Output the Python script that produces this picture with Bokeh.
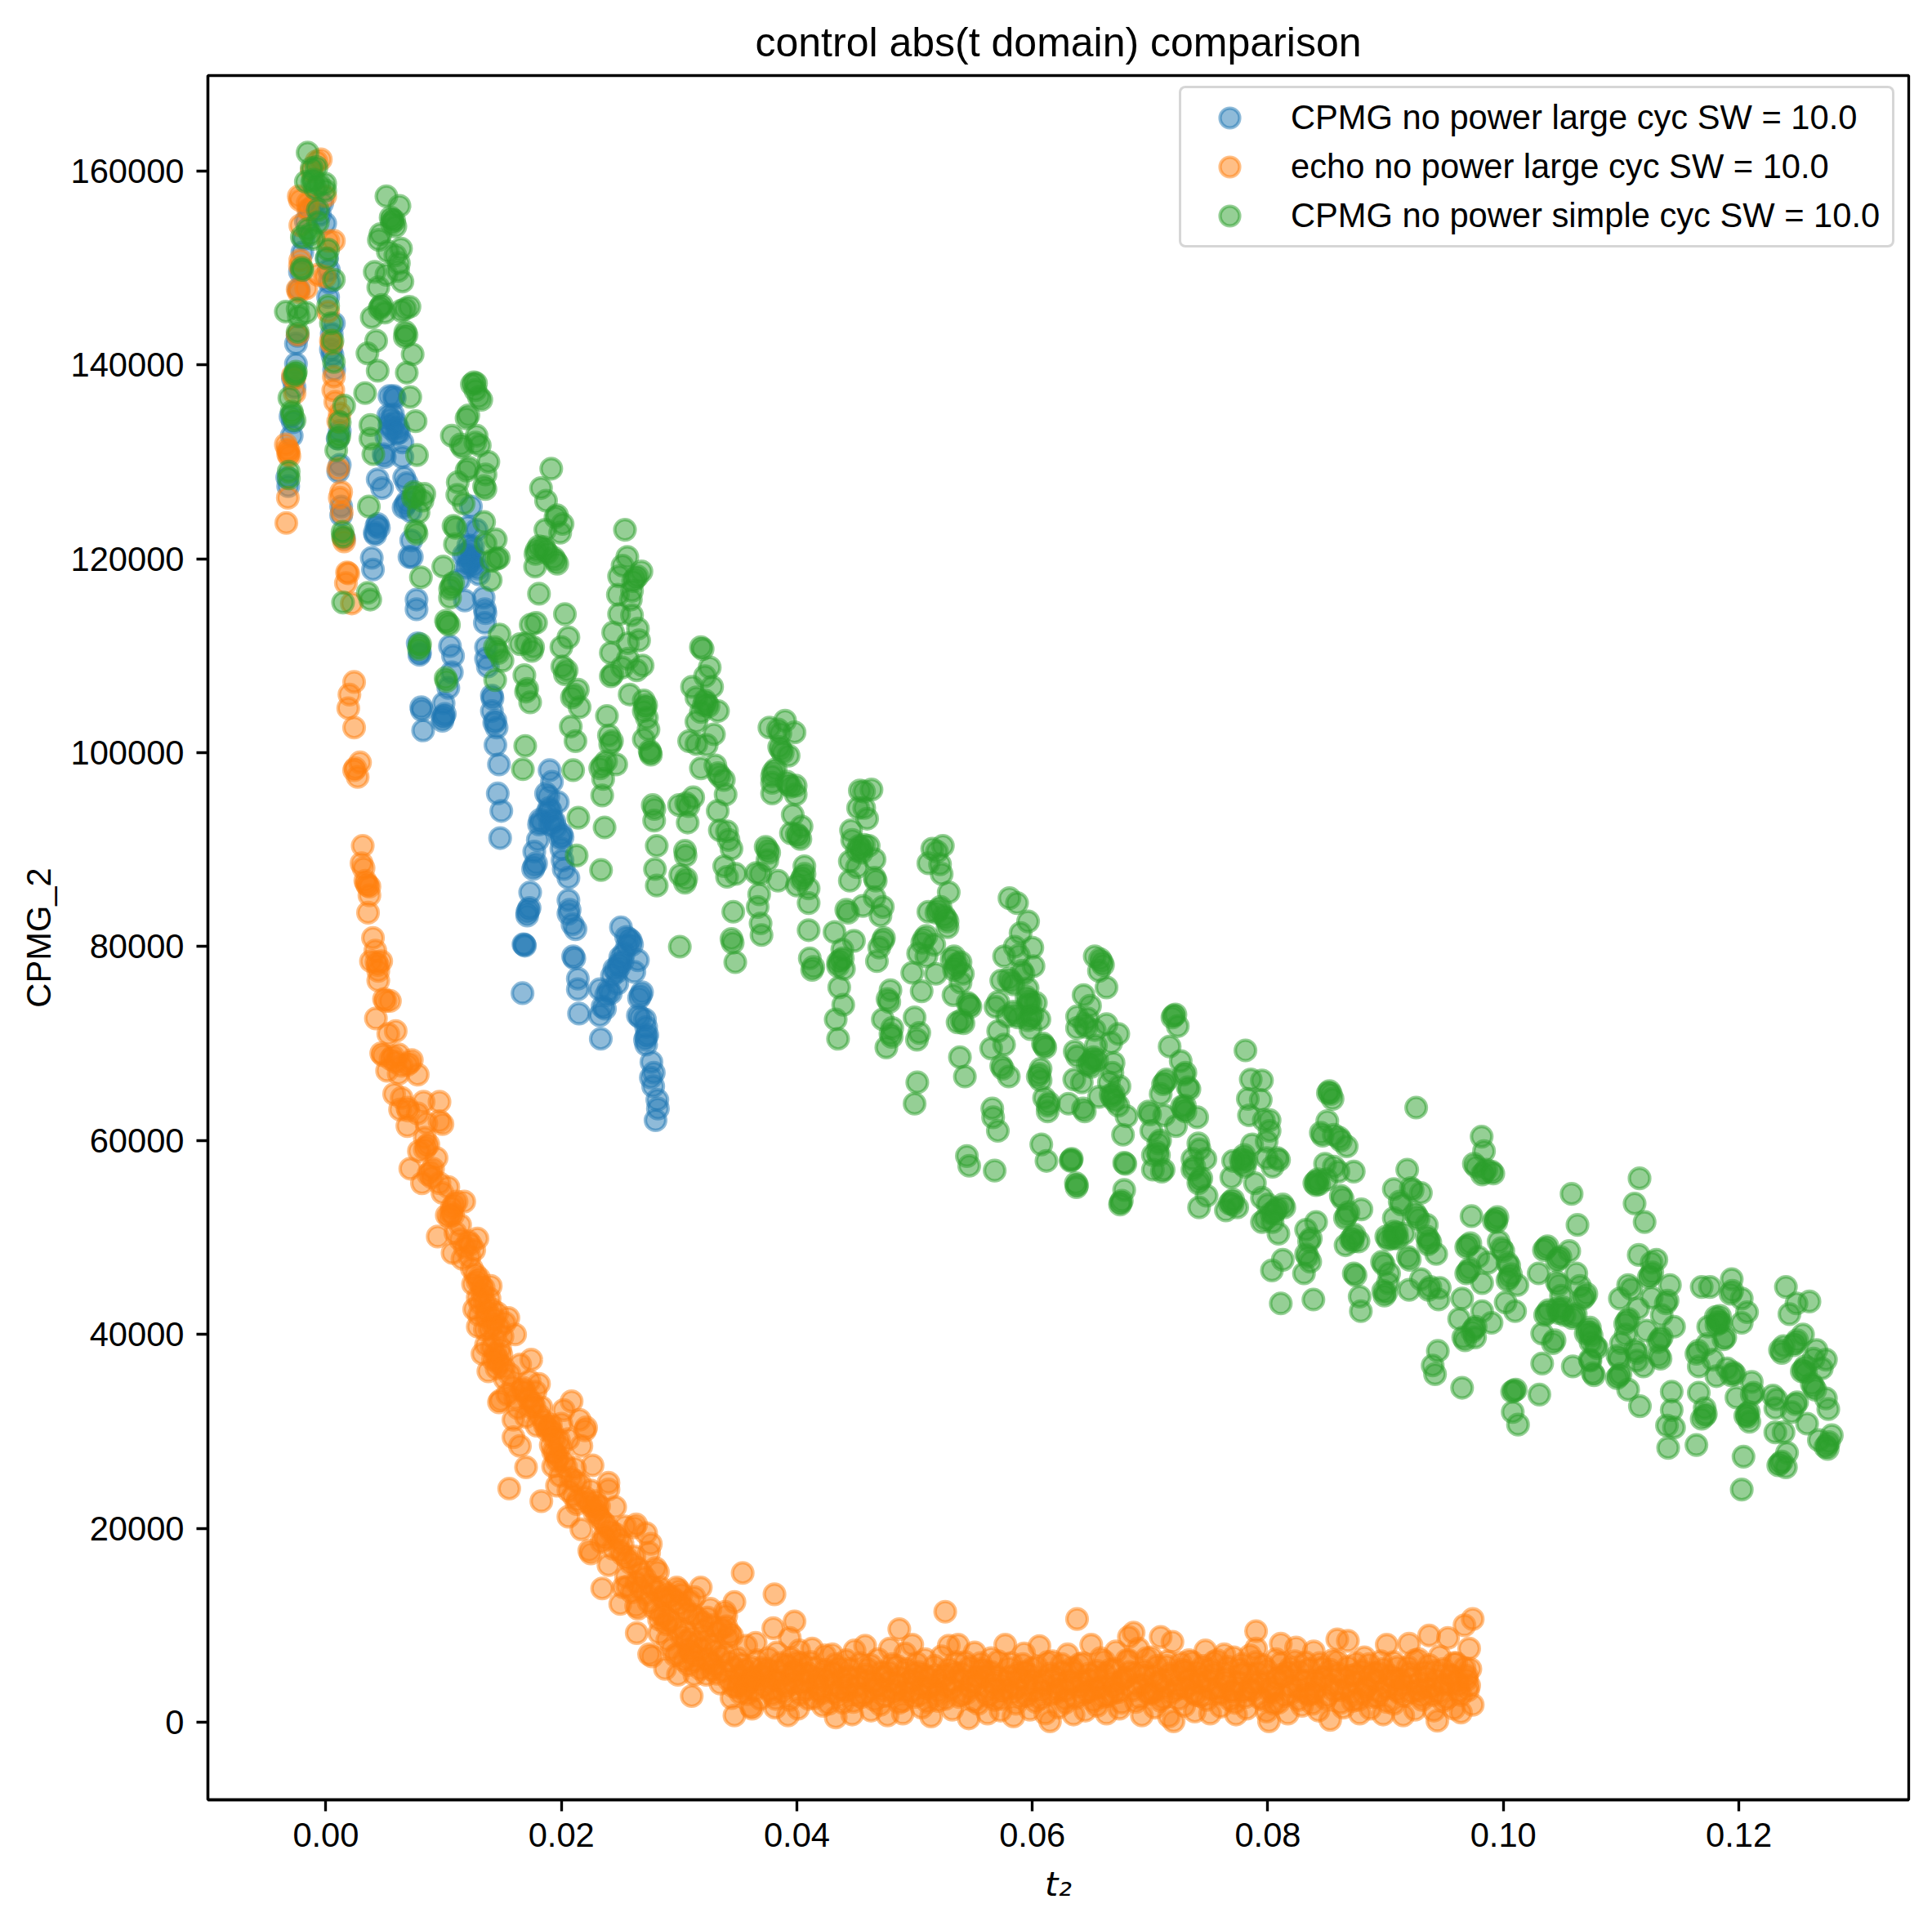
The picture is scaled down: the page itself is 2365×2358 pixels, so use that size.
from bokeh.plotting import figure
from bokeh.models import ColumnDataSource, Legend, LegendItem, FixedTicker, NumeralTickFormatter, Range1d
from bokeh.embed import file_html
from bokeh.resources import INLINE

TITLE = "control abs(t domain) comparison"
XLABEL = "t₂"
YLABEL = "CPMG_2"
X_TICKS = [0.0, 0.02, 0.04, 0.06, 0.08, 0.10, 0.12]
Y_TICKS = [0, 20000, 40000, 60000, 80000, 100000, 120000, 140000, 160000]
NAMES = ["CPMG no power large cyc SW = 10.0", "echo no power large cyc SW = 10.0", "CPMG no power simple cyc SW = 10.0"]

# points: (t2 in ms, signal in thousands)
cpmg_large = [
(-3.2,127.5),(-3.28,128.4),(-2.9,132.7),(-2.8,134.1),(-3,134.7),(-2.66,137.7),(-2.8,138.6),(-2.54,140.1),(-2.54,142.2),(-2.4,143),
(-2.3,147.8),(-2.2,149.6),(-2,151.6),(-1.4,156),(-1,156.5),(-.3,156.7),(-.06,154.6),(-.5,155.5),(-1.7,154.8),(-1.9,153),
(.31,148.5),(.19,147),(.68,144.3),(.43,141.6),(.56,141),(1.18,133.2),(1.0,132.4),(1.18,129.7),(1.05,129),(1.3,125.4),(1.3,124.5),(1.55,122.1),(.1,151),(.25,149.8),(.5,143.2),(.7,139.5),
(4.4,128.2),(4.77,127.3),(4.4,123.6),(4.5,123.2),(4.3,123.4),(4.15,122.7),(4.2,122.5),(7.25,121.9),(7.1,120.2),(3.9,120.1),(4,118.9),(5.76,136.8),(5.85,136.6),(5.4,136.8),
(5.5,134.4),(5.3,134.8),(5.7,134.9),(5.4,133.8),(5.9,134.1),(5.6,133.4),(6.13,133.5),(6.2,133),(6,132.9),(5.14,132.6),(6.5,132),(4.9,130.8),(5,130.5),(6.5,130.5),(6.65,128.4),(6.87,127.8),(6.75,125.6),(6.6,125.3),(6.9,125.9),(7.2,124.9),
(12.32,125.4),(12.07,123.3),(12.8,123),(12.3,120.9),(12.1,121.4),(12.5,121.3),(12.0,120.5),(12.6,120.2),(12.3,120),(12.1,119.5),(12.5,119.3),(12.3,119.7),(12.9,119),(11.7,120.4),(11.9,119.1),
(7.3,120.2),(7.7,115.8),(7.7,114.8),(7.8,111.3),(7.94,110.1),(8,110.3),(8.1,104.7),(8.15,104.4),(8.26,102.3),(10.54,111),(10.8,110),(10.7,108.3),(10.4,106.7),(10,105.1),(10,103.8),(10.1,104),(9.95,103.6),(9.9,103.3),
(11.3,117.8),(11.8,115.7),(13,118.4),(13.4,116),(13.5,114.8),(13.55,114.4),(13.5,113.4),(13.6,110.9),(13.6,109.7),(13.76,108.9),(14.1,105.9),(14.15,105.6),(14.1,104.3),(14.4,103.3),(14.3,103.1),(14.5,102.6),(14.4,100.8),(14.7,98.8),(14.6,95.8),(14.9,94),(14.8,91.2),
(19,98.2),(19.2,97),(18.7,95.8),(18.9,95.5),(19.7,94.9),(18.96,94.3),(19.1,94),(18.8,93.8),(18.2,93.1),(18.35,92.8),(18.1,92.6),(19.2,93.1),(19.4,92.9),(19.05,92.6),(19.5,92.3),(20,91.6),(19.9,91.2),(20.1,91.3),(18,91),(20,90.1),(17.7,89.8),(17.7,88.3),(17.85,88.6),(17.6,88),(20.1,88.9),(20.2,88),(20.6,87.1),(17.35,85.6),(17.2,83.8),(17.3,84),(17.1,83.5),(17.1,83.2),(20.6,84.8),(20.7,83.8),(20.6,83.4),(20.95,82.3),(21.2,81.8),
(16.86,80.2),(16.9,80.1),(16.78,80.25),(21,79),(21.1,78.8),(21.4,76.7),(21.4,75.6),(21.5,73.1),(16.7,75.2),
(25.06,82),(25.75,80.8),(25.5,81),(25.9,80.6),(26,80.2),(25.6,80.1),(25,78.9),(25.3,79.3),(25.2,78.5),(24.9,78.2),(26.5,78.6),(24.5,77.7),(24.7,77.4),(24.9,77.9),(24.3,77),(26.2,77.4),(23.27,75.6),(24.75,76.2),(23.8,75),(24,75.5),(24.2,75.2),(26.74,75),(26.6,74.7),(26.85,75.3),(23.5,73.8),(23.7,73.6),(23.27,72.9),(23.35,70.5),(26.5,72.9),(26.7,72.7),(27.1,72.5),(27.2,71.7),(27.2,70.7),(27.1,70.4),(27.3,70.9),(27.2,69.9),(27.65,68.1),(27.85,67),(27.6,66.5),(27.8,65.6),(28.15,64.2),(28.2,63.3),(28,62.1),
]

echo_large = [
(-.43,161.2),(-.8,161),(-1.2,160),(-2.3,157.4),(-2.2,157),(-.06,157.4),(-1.55,156.7),(-1.5,156),(-2.17,154.4),(.19,152.8),(.68,152.8),(-2.17,150.8),(-2.2,150.2),(-.68,149.3),(-.06,149.1),(-2.4,147.8),(-2.3,147.5),(-1.67,147.9),(.19,145.5),(-2.4,143.1),(.43,142.5),(.5,142.2),(.68,138.8),(.63,137.4),(-2.8,138.9),(-2.7,138.6),(-2.66,137.1),(.8,136.2),(1.18,135),(1.05,134.2),
(-3.4,131.8),(-3.16,131.1),(-3.2,130.8),(-3.1,130.6),(-3.25,131.3),(1.05,129.3),(1.3,126.9),(1.18,126.3),(-3.23,126.3),(1.35,124.8),(-3.36,123.7),(1.55,121.8),(1.5,122.2),(1.8,118.6),(1.9,118.5),(1.7,117.5),(2.2,115.4),(2.4,107.3),(2,106),(1.9,104.6),(2.4,102.6),(2.9,99),(2.5,98.4),(2.4,98.2),(2.7,97.5),
(3.13,90.4),(3.03,88.6),(3.2,88.1),(3.45,86.5),(3.35,86.8),(3.55,86.3),(3.7,86.2),(3.7,85.3),(3.58,83.5),(4,80.9),(4.2,79.6),(3.83,78.5),(4.7,78.5),(4.3,78.4),(4.4,78.1),(4.45,77.5),(4.45,76.5),(4.94,74.6),(5.44,74.4),(5.07,74.4),(4.25,72.6),(5.3,71),(5.93,71.3),(4.7,69),(4.85,68.8),(5.7,68.7),(5.5,68.4),(5.9,68.1),(6.18,68.9),(7.3,68.3),(6.92,67.8),(7.1,68),(6.43,67.7),(6.18,66.9),(5.2,67.2),(7.8,66.8),
(5.8,64.8),(6.43,64.4),(9.65,64),(8.3,64),(6.92,63.4),(7,63.1),(6.3,63.2),(7.8,62.8),(9.65,62),(9.9,61.7),(6.92,61.5),(8.53,61.8),(8.4,60.3),(8.53,59.4),(8.7,59.6),(8.4,59.1),(7.9,58.9),(9.4,58.2),(7.17,57.1),(8.9,56.8),(9.1,57.1),(8.7,56.5),(9,56.2),(8.16,55.6),(9.65,55.6),(10.4,55.2),(9.9,54.6),(11.75,53.7),(10.9,53.4),(11.1,53.7),(10.7,53.1),(10.64,52.5),(10.8,52.3),(10.5,52.1),(10.27,52.3),(9.5,50.1),(11.4,51.3),(12.87,49.9),(12.1,49.6),(12.3,49.3),(10.76,48.4),(12.6,48.7),(11.6,47.8),
(12.87,45.5),(12.5,45.2),(13.2,45),(14,45),(13.3,44.2),(12.9,43.8),(13.5,43.3),(12.6,42.6),(13,42),(13.6,41.8),(14.56,42.2),(15.5,41.7),(14.2,41),(15.2,41.2),(16.07,40),(15,39.8),(13.5,40.5),(12.9,40.8),(14.3,39.6),(13.6,38.9),(13.3,38),(14.56,37.5),(14.4,38),(14.7,37),(14.5,36.5),(17.44,37.4),(14.8,38.5),(13.8,36.2),(16.5,36.9),(17.3,35.2),(18.1,34.9),(16.75,34.5),(16.9,34.1),(16.6,34.2),(14.83,33.2),(14.7,33),(17.57,32.9),(17.7,32.6),(17.4,32.5),(20.87,33.1),(20.2,32.2),(15.93,31.2),(17,31.5),(18.95,30.4),(19.1,30.7),(18.8,30.1),(18.6,30.6),(19.2,30),(21.55,31.2),(22.1,30.4),(22,30.1),(20,30.8),(15.93,29.4),(16.48,28.5),(20.6,29.2),(21.7,28.5),(19.5,27.7),(19.7,27.3),(19.3,27.9),(19.6,27),(22.65,26.5),(17,26.3),(21.15,26.2),(19.9,25.4),(15.57,24.1),(18.3,22.8),(19.63,24.4),(24,24.7),(24,24),(20.6,23.9),(22.5,23.9),(20.6,21.2),(23,22),(23.2,22.3),(22.8,21.7),(23.1,21.4),(24.57,22.2),(21.7,19.9),(21.3,22.5),(26.35,20.4),(26.2,20.1),(25.4,20.2),(27.2,19.5),(23.6,19.2),(23.8,18.9),(23.4,18.6),(22.37,17.7),(22.5,17.4),(27.6,18.4),(27.45,17.5),(25,17.7),(25.2,17.3),(24,16.2),(28,15.9),(28.2,15.5),(25.5,15),(23.47,13.8),(25.26,13.9),(31.84,13.9),(35.4,15.4),(38.1,13.2),(29.8,13.9),(30,13.6),(30.2,13.2),(28.55,12.9),(28.8,12.6),(25,12.2),(26.35,12),(26.5,11.7),(34.7,12.4),(31.3,12.9),(28.4,11.2),(28.7,11),(29,10.6),(32.66,11.7),(33.9,11.4),(34,11),(30.7,11.2),
(38,9.7),(39.8,10.4),(52.6,11.4),(48.7,9.6),(39.4,8.7),(26.4,9.2),(32.1,9.5),(34.3,9.2),(34.5,8.9),(34.1,8.7),(28.3,9.2),(27.45,7),(27.7,6.8),(29,8.5),(28.8,5.5),(29.9,4.9),(31.3,4.9),(31.07,2.7),(30.5,9.5),(31,7.2),(31.2,6.9),(30.8,7.5),(32.66,6.2),(32.9,5.9),(32.4,6.5),(29.65,6.9),(33.5,4),(34.45,2.5),(34.7,.7),(36.2,1.4),(36.1,1.6),(36.5,8.2),(37.3,5.2),(37.5,5.5),(37.1,4.9),(37.4,4.6),(36,4.2),(35.8,3.9),(36.2,4.6),(35.7,7.9),(38.15,1.5),(39.25,.7),(37.9,2.9),
(35,6.6),(35.3,6),(35.6,5.4),(34.9,3.6),(35.2,3),(38.3,7.2),(38.6,6.1),(38.9,4.9),(39.1,3.6),(39.5,6.6),(39.8,5.3),(40.2,7.4),(40.4,6.1),(40.7,4.2),(41,2.4),(40.1,1.4),(41.3,7.6),(41.6,5.6),(41.9,3.3),(42.2,1.7),(42.4,6.9),(42.7,4.8),(43,7),(43.3,.5),(43.2,3),(43.6,5.6),(43.9,2),(44.2,6.4),(44.4,3.9),(44.7,.8),(44.9,7.4),(45.2,4.6),(45.5,2.6),(45.8,7.9),(46,5.5),(46.3,1.2),(46.5,3.4),(46.9,6.5),(47.1,1.8),(47.4,4.7),(47.7,.7),(47.9,7.6),(48.2,3),(48.5,5.8),(48.7,2),(49,.9),(49.2,7.1),(49.5,4.1),(49.8,8),(50,2.6),(50.3,5.2),(50.6,1.5),(50.9,6.5),(51.1,3.5),(51.4,.6),(51.7,4.8),(52,2.2),(52.3,6.8),(52.6,3.7),(52.9,7.9),(53.2,1.3),(53.4,5.1),(53.7,8),(54,2.8),(54.3,6.2),(54.6,.4),(54.9,4.2),(55.1,7.2),(55.4,1.9),(55.7,5.5),(56,3.1),(56.2,.9),(56.5,6.6),(56.8,2.3),(57,4.7),(57.3,1.2),(57.7,8),(57.9,3.4),(58.2,6.1),(58.4,.6),(58.7,5),(59,2.6),(59.3,7.1),(59.5,3.9),(59.8,1.3),(60,5.6),(60.3,2.1),(60.6,7.85),(60.9,4.3),(61.1,.9),(61.5,.1),(61.7,6.3),(62,3),(62.2,1.5),(62.5,5.2),(62.8,2.4),(63,7),(63.3,4),(63.5,.8),(63.8,10.65),(64,6),(64.3,2.9),(64.5,1.2),(64.8,5),(65,8),(65.3,3.5),(65.5,1.7),(65.8,6.6),(66,2.6),(66.3,.9),(66.6,5.4),(66.9,3.7),(67.1,7.3),(67.4,1.4),(67.7,4.5),(68,6.4),(68.2,8.8),(68.6,9.25),(68.8,2.1),(69,7.6),(69.3,.7),(69.5,5.3),(69.8,3),(70.1,6.7),(70.4,1.5),(70.6,4.1),(70.9,8.8),(71.1,2.5),(71.4,5.8),(71.6,.6),(71.9,8.3),(72,.1),(72.3,3.4),(72.6,6.1),(72.9,1.7),(73.3,6.4),(73.5,3.9),(73.8,1.1),(74,5.2),(74.3,2.7),(74.7,7.4),(74.9,4.3),(75.1,.9),(75.4,6.2),(75.7,3),(76,1.6),(76.3,7),(76.5,4.6),(76.8,2.3),(77.1,6.7),(77.3,.8),(77.6,5.5),(77.9,3.2),(78.2,1.4),(78.5,6.9),(78.7,4),(79,9.4),(79,7.6),(79.3,2.5),(79.6,5.9),(79.9,1.1),(80.1,0.1),(80.4,3.6),(80.7,6.5),(80.9,2),(81.1,8.1),(81.4,4.7),(81.7,.9),(82,3),(82.4,7.7),(82.7,5.3),(82.9,1.7),(83.2,6.2),(83.5,2.8),(83.9,7.3),(84.1,4.2),(84.3,1.2),(84.6,5.6),(84.9,2.4),(85.3,.25),(85.5,6.4),(85.9,8.55),(86.1,3.3),(86.4,1.5),(86.8,8.4),(87,4.8),(87.2,2.2),(87.5,6.1),(87.8,.9),(88.2,6.7),(88.4,3.7),(88.7,1.4),(89,5.1),(89.3,2.6),(89.6,6.3),(89.8,.8),(90.1,8),(90.4,4.2),(90.7,1.9),(91,5.7),(91.2,3),(91.5,.7),(92,8.1),(92.2,4.6),(92.5,1.3),(92.8,6.5),(93,2.7),(93.3,5.2),(93.7,8.95),(93.9,3.6),(94.1,1.2),(94.4,0.15),(94.6,6.8),(94.9,2.2),(95.3,8.7),(95.5,4.9),(95.8,1.4),(96,6.1),(96.2,3.2),(96.4,1),(96.7,10),(96.9,4.4),(97.1,7.6),(97.1,3.8),(97.2,5.5),(97.4,10.65),(97.4,1.8),
]

# the dense core of the orange curve, where single marks merge
echo_core = [
(11,50.5),(11.4,49.8),(11.8,49),(12.2,48),(12.4,46.8),(12.7,46.2),(13,45.8),(13.4,44.8),(13.1,43.2),(13.9,43.7),(13.7,42.4),(14.1,42.6),(14.3,41.6),(13.9,40.6),(14.7,40.7),(14.1,38.7),(14.9,37.9),(14.2,37.4),(15.1,36.6),(15.2,35.4),(15.6,35.9),(15.9,34.6),(15.4,33.8),(16.1,33.4),(16.3,32.4),(17.2,33.4),(17.8,34.1),(18.1,31.7),(18.3,32.5),(18.5,31.1),(17.9,30.6),(19.4,29.3),(19.8,29.1),(19.1,28.6),(19.9,28.4),(20.2,26.9),(19.3,26.4),(20.4,26.3),(20.8,25.2),(21.2,24.9),(21.6,24.6),(21,23.4),(21.4,22.9),(22,23.2),(22.3,22.7),(22.6,22.3),(22.9,22.8),(23.3,21),(23.6,20.6),(23.9,20.2),(24.2,19.7),(24.6,19.4),(24.9,18.9),(24.4,17.9),(25.2,18.4),(25.6,16.9),(25.9,16.4),(26.2,17.1),(26.5,15.9),(26.8,15.4),(27.1,14.9),(25.6,14),(26,13.4),(26.4,14.4),(26.8,13.7),(27.2,13.2),(27.6,14.1),(28,13.6),(28.4,13.9),(28.9,13.3),(29.3,13),(29.7,12.6),(30.1,12.2),(30.5,11.7),(30.9,12.5),(31.2,11.1),(31.6,10.7),(32,10.3),(32.4,10.8),(32.8,10),(33.2,9.3),(33.6,9.7),(34,9.9),(27.4,12.4),(27.9,11.7),(28.3,10.6),(28.9,10.1),(29.4,10.4),(29.8,9.7),(30.2,8.9),(30.6,8.4),(31,8.7),(31.5,8.2),(31.9,7.6),(32.3,8.5),(32.7,8),(33.1,7.4),(33.5,6.7),(33.9,7.1),(34.3,6.2),(34.7,5.6),(35.1,4.8),(29.4,7.6),(29.9,7.1),(30.4,6.4),(30.8,5.9),(31.3,6.3),(31.8,5.5),(32.3,4.9),(32.8,5.4),(33.2,5),(33.7,5.3),(34.2,4.4),(34.6,3.7),
]
echo_band = [
(35.1,3.9),(35.4,4.6),(35.8,2.9),(36.1,5.7),(36.4,3.3),(36.6,6.4),(36.9,2.4),(37.2,3.7),(37.6,6.6),(37.9,4.4),(38.2,2.4),(38.5,5.3),(38.8,3.1),(39.1,5.9),(39.4,2.3),(39.7,4),(40,6.2),(40.3,2.9),(40.6,5.1),(40.9,3.4),(41.2,6.2),(41.5,2.5),(41.8,4.6),(42.1,3),(42.4,5.4),(42.7,1.9),(43,3.9),(43.3,6),(43.6,2.7),(43.9,4.5),(44.2,3.2),(44.5,5.5),(44.8,2.1),(45.1,3.7),(45.4,6.1),(45.7,2.9),(46,4.3),(46.3,5.9),(46.6,2.3),(46.9,3.8),(47.2,5.2),(47.5,2.7),(47.8,4.2),(48.1,6),(48.4,3.3),(48.7,4.7),(49,2.2),(49.3,5.5),(49.6,3.1),(49.9,4.4),(50.2,6.1),(50.5,2.8),(50.8,4.9),(51.1,2.1),(51.4,3.7),(51.7,5.8),(52,3.2),(52.3,4.5),(52.6,2.4),(52.9,5.5),(53.2,3.5),(53.5,6.2),(53.8,2.6),(54.1,4.4),(54.4,3),(54.7,5.7),(55,2.2),(55.3,3.9),(55.6,6.1),(55.9,4.7),(56.2,2.7),(56.5,5.2),(56.8,3.4),(57.1,6.3),(57.4,2.4),(57.7,4.2),(58,5.6),(58.3,3),(58.6,1.9),(58.9,4.5),(59.2,6),(59.5,2.7),(59.8,4.9),(60.1,3.3),(60.4,5.7),(60.7,2.4),(61,3.9),(61.3,6.2),(61.6,2.9),(61.9,4.7),(62.2,3.4),(62.5,6),(62.8,2),(63.1,4.3),(63.4,5.6),(63.7,2.5),(64,3.7),(64.3,6.1),(64.6,3.1),(64.9,4.4),(65.2,2.2),(65.5,5.3),(65.8,3.6),(66.1,6.3),(66.4,2.7),(66.7,4.1),(67,5.5),(67.3,3.1),(67.6,2),(67.9,4.6),(68.2,6.4),(68.5,3.3),(68.8,5.1),(69.1,2.5),(69.4,3.9),(69.7,6.6),(70,2.9),(70.3,4.7),(70.6,5.8),(70.9,2.2),(71.2,3.6),(71.5,6.3),(71.8,3),(72.1,4.8),(72.4,2.4),(72.7,5.4),(73,3.5),(73.3,4.4),(73.6,6.2),(73.9,2.8),(74.2,4.1),(74.5,5.8),(74.8,2.3),(75.1,3.4),(75.4,5),(75.7,6.4),(76,2.9),(76.3,4.5),(76.6,5.7),(76.9,3.2),(77.2,2),(77.5,4.1),(77.8,6),(78.1,2.6),(78.4,5),(78.7,3.3),(79,6.2),(79.3,4.1),(79.6,2.3),(79.9,5.4),(80.2,3.2),(80.5,1.9),(80.8,4.5),(81.1,6.1),(81.4,2.7),(81.7,5.2),(82,3.7),(82.3,6.3),(82.6,2.3),(82.9,4.3),(83.2,3),(83.5,5.5),(83.8,1.9),(84.1,3.5),(84.4,6.1),(84.7,4.6),(85,2.7),(85.3,5.4),(85.6,3.3),(85.9,6.3),(86.2,2),(86.5,4.5),(86.8,5.7),(87.1,3),(87.4,4.1),(87.7,2.3),(88,5.3),(88.3,3.5),(88.6,6),(88.9,2.6),(89.2,4.3),(89.5,3.1),(89.8,5.5),(90.1,2.1),(90.4,4.8),(90.7,6.2),(91,3.3),(91.3,4.4),(91.6,2.7),(91.9,5.7),(92.2,3.1),(92.5,6.4),(92.8,4),(93.1,2.3),(93.4,3.5),(93.7,5.9),(94,2.8),(94.3,4.4),(94.6,3.1),(94.9,5.5),(95.2,2.5),(95.5,3.9),(95.8,6.1),(96.1,4.3),(96.4,2.8),(96.7,5.6),(97,3.3),
(35.6,3.6),(36.3,4.5),(37,5.6),(37.7,3.3),(38.4,4.3),(39,3.9),(39.7,5.1),(40.4,4),(41,5),(41.7,3.9),(42.4,4.4),(43.1,5.1),(43.8,3.4),(44.4,4.7),(45.1,2.9),(45.8,4.9),(46.5,4.2),(47.2,3.3),(47.8,5.2),(48.5,4),(49.2,3.2),(49.9,5),(50.6,3.7),(51.2,4.6),(51.9,2.8),(52.6,4.9),(53.3,4.2),(54,5.1),(54.7,3.6),(55.3,4.7),(56,5.3),(56.7,4),(57.4,3.3),(58.1,4.7),(58.7,3.5),(59.4,5.2),(60.1,4.3),(60.8,3.2),(61.5,5),(62.1,4),(62.8,3.3),(63.5,5.2),(64.2,4.2),(64.9,3.2),(65.5,4.5),(66.2,5),(66.9,3),(67.6,4.2),(68.3,5.2),(68.9,3.8),(69.6,4.8),(70.3,3.1),(71,4.4),(71.7,5),(72.4,3.8),(73,5.3),(73.7,3),(74.4,4.6),(75.1,5.4),(75.8,3.6),(76.4,4.2),(77.1,3.2),(77.8,5),(78.5,3.5),(79.2,5.1),(79.9,4.2),(80.5,3.1),(81.2,4.9),(81.9,5.6),(82.6,3.5),(83.3,4.3),(83.9,3),(84.6,4.6),(85.3,3.9),(86,5),(86.7,3.6),(87.4,4.9),(88.1,3),(88.7,4.6),(89.4,5.1),(90.1,3.5),(90.8,4.5),(91.5,3.9),(92.1,5.1),(92.8,3.3),(93.5,4.6),(94.2,5.3),(94.9,3.9),(95.6,4.8),(96.2,3.8),(96.9,4.8),
]

cpmg_simple = [
(-1.55,161.9),(-.8,160.4),(-1.2,160.3),(-1.7,158.9),(-.06,158.7),(-1.05,159.1),(-1.15,158.9),(-.56,158.6),(-.06,158),(-.9,158.2),(-.68,156),(-.68,154.7),(-1.55,154),(-2.04,153.2),(-1.3,153.5),(-1.05,153),(.19,151.9),(.06,151),(.68,148.8),(-2.04,150),(-2,149.8),
(-3.4,145.5),(-2.4,145.8),(-2.3,145),(-1.67,145.4),(-2.4,143.4),(.19,146.1),(.43,144.3),(.56,142.5),(.68,140.3),(-2.6,139.1),(-2.55,139.3),(-2.65,138.9),(-3.1,136.6),(-2.9,135.2),(-2.85,134.9),(-2.66,134.3),(1.55,135.8),(1.18,134.1),(1.05,132.4),(1.15,132.7),(.88,131.2),(-3.16,129),(-3.15,128.3),(1.42,122.8),(1.45,122.3),(1.46,115.5),
(5.14,157.4),(6.25,156.4),(5.64,155),(5.5,155.2),(5.8,154.9),(5.6,154.6),(5.9,154.3),(4.64,153.5),(4.5,152.9),(6.38,152),(5.26,151.7),(5.9,151.3),(6.13,149.7),(6.2,150.5),(4.15,149.6),(5.14,149.3),(6.5,148.6),(4.45,148),(4.64,146),(4.75,146.2),(4.55,145.8),(5,145.4),(3.9,144.9),(6.75,145.8),(7.1,146),(6.4,145.6),(6.75,143.4),(6.85,143.1),(6.7,142.9),(4.27,142.5),(3.53,141.2),(7.37,141.1),(4.4,139.4),(6.87,139.2),(3.33,137.1),(7.17,136.7),(7.62,134.2),(3.78,133.8),(3.78,132.4),(4.03,130.8),(7.74,130.7),
(7.49,126.9),(7.6,126.5),(7.4,126.3),(8.36,126.7),(8.2,126),(7.87,124.8),(7.62,122.9),(3.65,125.4),(3.56,116.5),(3.77,115.8),
(12.57,138.2),(12.4,138),(12.75,138.1),(12.7,137.4),(13.2,136.4),(13,136.7),(11.95,134.5),(12.1,134.8),(10.7,132.7),(12.8,132.7),(11.45,131.8),(11.6,131.5),(12.7,132),(13.07,131.7),(11.95,129.1),(12.15,129.4),(13.8,130),(13.56,128.7),(11.2,127.9),(13.44,127.5),(13.55,127.2),(11.16,126.6),(11.7,125.7),(10.84,123.4),(11,123.2),(13.44,123.8),(14.43,122),(10.96,121.5),(13.56,121.6),(14.68,120.1),(9.97,119.2),(14.06,119.8),
(7.7,122.6),(8.07,118.1),(14.5,120),(14,117.8),(10.67,117.2),(10.8,117.5),(10.55,116.9),(10.54,116),(10.3,113.4),(10.2,113.6),(10.45,113.2),(7.94,111),(8,111.2),(7.9,110.7),(14.75,112.2),(14.5,110.6),(14.35,110.9),(14.65,110.3),(15,109.5),(14.38,107.5),(10.17,107.7),(10.25,107.4),
(19.14,129.3),(18.27,127.3),(18.7,126),(19.63,124.5),(19.5,124.3),(20.1,123.6),(18.64,123),(19.9,122.7),(17.9,120.9),(18.1,121.3),(17.8,120.5),(18.64,120.9),(18.5,121.2),(18.8,120.6),(19.5,119.8),(19.35,120.1),(19.65,119.5),(17.77,119.2),
(25.4,123),(25.6,120.2),(25.2,119.3),(26.8,118.7),(24.9,118.2),(26.27,118),(26.1,117.7),(26.45,118.2),(24.8,116.3),(26,116.7),(25.9,115.8),(24.9,114.3),(26,114.2),(26.5,112.8),(24.4,112.4),(26.6,111.6),(24.2,110.3),(25.65,111.3),(25.65,109.7),(26.9,109),(24.2,107.9),(24.35,108.1),(25.16,108.8),(26.4,108.5),
(25.8,106),(27,105.4),(27.1,104.7),(27,104.3),(27.2,104.9),(27.26,103.6),(27.4,102.4),(27,101.4),(27.56,100),(27.5,100.2),(27.6,99.8),
(18.1,116.4),(20.3,114.3),(20.6,111.9),(20,110.9),(20.08,108.9),(20.45,108.5),(20.3,108.1),(21.07,106),(20.9,105.7),(21.4,106.5),(21.55,104.7),(20.8,102.7),(21.2,101.2),
(17.85,113.4),(17.4,113.2),(17,111.3),(16.5,111.2),(17.6,110.9),(17.5,110.5),(16.86,108),(17.1,106.6),(17,106.3),(17.35,105.2),(16.93,100.7),(16.73,98.3),
(21,98.2),(23.87,103.8),(24.04,101.8),(24.3,101.2),(24.15,100.9),(23.8,99.1),(24.66,98.8),(23.3,98.4),(23.5,98.7),(23.55,97.3),(23.47,95.6),
(31.85,110.9),(32,110.7),(32.6,108.8),(32.2,107.9),(31.1,106.8),(32.8,106.8),(31.47,105.7),(32.34,105.1),(32.2,105.4),(32.5,104.8),(32.1,104.9),(33.3,104.3),(31.85,104.2),(31.47,103.2),(32.96,101.9),(30.85,101.2),(31.47,100.9),(32.34,100.8),(31.85,98.4),(33.08,98.7),(33.46,97.6),(33.3,97.9),(33.8,97.2),(33.95,95.7),(33.28,94),(33.46,92),(34.07,91.9),(34.2,91),(34.45,90.1),(33.83,88.3),(34.8,87.5),(34.07,87.2),
(27.76,94.6),(27.9,94.2),(27.88,93),(30,94.6),(30.6,94.8),(30.8,94.5),(31.2,95.4),(30.73,92.8),(21.44,93.3),(23.67,92.3),(21.3,89.4),(23.37,87.9),
(28.1,90.4),(30.5,89.9),(30.55,89.4),(27.95,88),(30.1,87.4),(30.6,87),(30.5,86.6),(28.1,86.3),(34.6,83.6),(34.45,80.8),(34.55,80.4),(34.77,78.4),(30.06,80),
(36.9,87.5),(37.5,90),(37.35,90.3),(37.65,89.7),(38.4,86.8),(36.55,87.6),(36.8,85.4),(36.67,84.1),(36.92,82.4),(37,81.2),(37.5,88.9),
(37.67,102.6),(39,103.3),(39.8,102.1),(38.4,102.4),(38.6,102),(38.66,100.3),(38.5,100.6),(38.8,100),(39.3,99.7),(38,98),(38.2,98.3),(37.9,97.6),(37.9,96.9),(37.9,95.8),(39.3,96.7),(39.15,97),(39.5,96.5),(39.9,96.6),(39.9,95.7),(39.65,93.6),(40.4,92.4),(40.14,91.4),(40.3,91.1),(40,91.6),(39.5,91.7),(40.64,88.3),(40.5,87.2),(40.65,87.5),(40.4,86.9),(40,86.3),(41,86),(41,84.5),(41,81.7),
(43.2,81.5),(44.85,80.6),(43.86,79.7),(43.7,78.6),(43.9,78.8),(43.5,78.4),(41.1,78.8),(41.4,77.9),(41.3,77.6),(43.5,78),(44,77.7),(43.6,75.8),(43.94,74),(43.3,72.5),(43.5,70.5),
(45.35,96.1),(46.34,96.2),(45.7,96),(45.2,94.3),(45.97,93.2),(45.72,94.3),(44.6,92),(44.7,91),(45.48,90.1),(45.3,90.4),(45.7,90.5),(45.5,89.7),(45.1,89.9),(46.1,90.4),(44.5,88.8),(46.6,89),(45.1,88.2),(46.6,87.1),(46.7,86.8),(44.5,86.8),(46.6,85.1),(45.6,84.2),(44.2,83.8),(44.35,83.5),(47.3,84.1),(47.1,83.2),
(47.3,80.6),(47.4,80.9),(47,79.9),(46.8,78.5),(47.95,75.5),(47.7,74.6),(47.85,74.3),(47.3,72.5),(48.1,71.6),(47.95,71),(48.05,70.7),(47.6,69.6),
(50,72.7),(50.4,71.1),(50.2,70.4),(50.23,66),(50,63.8),
(51.5,90.1),(52.4,90.4),(51.9,89.8),(51.17,88.6),(52.16,88.5),(52.3,87.5),(52.9,85.6),(52,83.8),(52.2,84.1),(51.85,83.5),(51.17,83.6),(52.66,82.9),(52.5,83.2),(52.8,82.6),(52.8,82),(50.8,80.8),(51,81.1),(50.65,80.4),(51.67,80.2),(50.3,79.3),(51,79),(49.8,77.3),(51.8,77.2),(50.6,75.4),
(53.15,78.7),(53.35,79),(53.9,78.4),(53.5,77.9),(53.6,78.2),(53.35,77.6),(54.1,77.2),(53.9,76.3),(53.3,75),(54.64,74),(54.5,74.2),(54.75,73.8),(54,72.4),(54.15,72.1),(53.65,72.2),(53.85,68.6),(54.27,66.6),(54.44,58.4),(54.64,57.4),(56.8,56.9),
(58.06,85),(58.7,84.5),(59.64,82.6),(59,81.4),(60,79.9),(58.5,80),(57.6,79),(58.85,79.1),(60.1,78),(59.1,77.5),(59.25,77.2),(57.36,76.5),(58.2,76.4),(58,76.7),(58.4,76.1),(59.6,75.7),(57.1,74.3),(56.87,73.8),(59.7,74.5),(59.5,74.8),(59.85,74.2),(59.6,74),(60.3,74.2),(58.6,73),(58.4,73.3),(58.8,72.7),(57.86,72.8),(59.84,72.7),(60,72.9),(59.65,72.4),(60.6,72.5),(57.1,71.3),(59.84,71.5),(57.6,69.9),(56.5,69.5),(61,69.8),(61.1,69.6),(60.9,70),(57.36,67.7),(57.5,67.4),(58,66.6),(60.7,67.4),(60.46,66.6),(60.6,66.9),(60.7,66.2),
(61,64.4),(61.3,63.6),(61.4,63.9),(61.3,63),(56.6,63.3),(56.67,62.4),(57.07,61),(60.76,59.6),(61.2,57.9),(63.3,58),(63.35,58.1),(63.25,57.9),(63.7,55.6),(63.8,55.4),(63.75,55.2),
(65.3,79),(65.9,78.4),(66,78.1),(65.75,78.7),(65.66,77.5),(66.3,75.8),(64.35,75),(64.9,73.9),(63.8,72.8),(64.7,72.6),(63.8,71.6),(64.4,72),(64.6,71.7),(66.3,72),(65.3,71.4),(67.3,71),(65.4,69.8),(66.7,70.1),(63.6,69.2),(63.8,68.7),(64.9,68),(65.1,68.3),(64.7,67.8),(65,67.6),(65.2,68.6),(65.5,68.3),(66.9,68),(66.8,67),(63.56,66.3),(64.2,66),(67.4,65.6),(66.5,66),(63.07,63.8),(64.3,63.3),(64.45,63),(65.66,64.5),(66.8,64.4),(66.65,64.7),(67,64.1),(66.9,64.8),(67.3,63.6),(68,62.5),(67.7,60.6),(67.8,57.7),(67.9,57.6),(67.8,54.9),(67.5,53.6),(67.6,53.8),(67.45,53.4),
(72,72.9),(72.15,73),(71.9,72.7),(72.35,71.8),(71.66,69.7),(72.6,68.2),(72.85,66.8),(73,67),(71.25,66),(71.4,66.3),(71.1,65.8),(73.34,65.3),(73.2,65.5),(70.9,64.8),(72.85,63.2),(72.7,63.5),(73,63),(72.95,63.6),(74,62.4),(69.87,63),(70,62.7),(71.2,62.6),(72.2,61.5),(70.1,61),(70.7,59.7),(70.85,60),(70.24,58.5),(70.6,58.8),(70.75,58.5),(71,56.8),(71.15,57),(70.24,57),
(78.1,69.3),(78.55,66.3),(79.5,66.2),(78.3,64.3),(79.4,64.2),(78.4,62.6),(79.66,62.1),(74.1,59.7),(74.2,59.1),(74.7,58.1),(73.6,58.1),(73.6,57),(73.75,57.3),(74.2,55.9),(74.35,56.1),(74.1,55.6),(74.8,54.3),(74.16,53.1),
(77.9,58.2),(78,58.5),(77.7,58),(78.15,57.9),(77.8,57.6),(78.05,57.3),(78.66,59.6),(77.05,57.9),(76.9,56.2),(78.9,55.6),(76.9,53.7),(77.05,53.9),(76.75,53.5),(77,53.4),(76.44,52.8),(77.4,53.1),(79.5,54.1),(80,53.4),(79.5,51.6),(80.3,52.5),(79.9,58.2),
(80.15,62.1),(80.15,61),(79.9,59.9),(80.8,58.2),(80.95,58),(80.4,57.3),(81.27,53.4),(81.4,53.1),(80.65,52.8),(80.8,53),(80.5,52.5),(79.8,51.9),(80.9,50.4),(80.4,51.6),
(84.1,51.6),(83.25,50.8),(83.5,49.6),(83.65,49.9),(83.25,48.3),(83.4,48),(83.6,47.5),(83.07,46.3),(81.27,47.7),(80.35,46.6),(81.1,43.2),(83.87,43.6),
(85.23,65.1),(85.35,64.8),(85.1,64.9),(85.5,64.3),(85.05,62),(84.5,60.8),(84.65,60.5),(85.6,60.6),(86.2,60),(86.05,60.3),(86.7,59.4),(84.86,57.6),(85.6,57.3),(87.3,56.8),(84.1,55.8),(84.25,56),(83.95,55.6),(84.35,55.5),(84.1,55.4),(85,56),(86,56.8),(86.2,54.3),(86.35,54),(87.95,52.9),(86.7,52.3),(86.85,52.6),(86.55,52),(87.2,50),(87.35,50.3),(87.05,49.8),(87.2,49.6),(87.7,49.6),(86.6,49.2),(87.3,46.3),(87.45,46.1),(87.8,43.9),(87.9,42.4),
(92.6,63.4),(91.84,57),(90.7,55),(92.3,54.9),(92.15,55.1),(93,54.6),(91.2,53.7),(91.35,53.4),(90.7,52),(92.66,52.2),(92.5,52.5),(92.8,51.9),(90.8,50.2),(90.95,50.5),(90.6,49.9),(91,49.9),(90.7,50.6),(90.06,50.1),(90.2,49.8),(91.55,50.4),(93.5,51.3),(93.66,49.8),(93.5,50.1),(93.8,49.5),(93.6,49.3),(94.3,48.3),(91.9,48),(92.05,47.7),(89.7,47.5),(89.85,47.2),(90.3,46.3),(90.2,45.3),(89.9,44),(90.05,44.3),(89.8,44.5),(92,44.6),(93,45.7),(93.65,44.6),(93.8,44.9),(94.6,44.8),(94.5,43.6),
(98.16,60.4),(98.36,58.9),(97.5,57.6),(97.7,57.3),(98.36,56.7),(98.55,57),(98.2,56.5),(99,56.8),(99.15,56.6),(97.3,52.2),(99.35,51.9),(99.5,52.1),(99.2,51.7),(99.4,51.6),(99.6,49.6),(97,49.2),(97.2,49.4),(96.85,49),(97.86,48),(99.84,48.9),(100,48.6),(98.7,47.4),(100.5,47.1),(100.35,47.4),(97,46.5),(97.15,46.8),(96.85,46.3),(100.5,45.9),(100.65,46.2),(100.35,45.6),(98.2,45.3),(101.2,45.1),(96.5,43.7),(98.2,42.4),(100.2,43.3),(101,42.4),(96.25,41.6),(99,41.2),(97.5,40.6),(97.65,40.8),(97.35,40.3),(96.6,39.7),(96.75,39.4),(97.6,39.7),(94.44,38.3),(94,36.8),(94.2,35.9),(96.5,34.5),
(105.8,54.5),(106.3,51.3),(103.6,48.9),(103.75,49.1),(103.45,48.7),(105.6,48.6),(104.7,47.8),(104.85,48),(104.55,47.6),(103,46.3),(106.2,46.3),(104.55,45.4),(104.7,45.1),(106.5,45),(106.9,43.9),(107.05,44.2),(106.75,43.7),(104.9,44),(103.7,42.2),(103.85,42.5),(103.55,42),(104.9,42.5),(105.05,42.8),(104.75,42.2),(105.2,42),(104.6,42.7),(106,41.9),(106.15,42.1),(105.85,41.7),(107.15,40.4),(107,40.1),(107.35,40.7),(103.3,40.1),(104.2,39.1),(104.35,39.4),(107.4,39.2),(103.3,37),(105.9,36.7),(107.4,37.3),(107.6,36),
(100.9,34.2),(101.05,34.3),(100.75,34.1),(103.06,33.8),(100.8,32),(101.25,30.7),
(107.35,40.2),(107.5,39.9),(107.8,38.8),(107.95,38.6),(107.35,37.4),(107.7,35.8),
(111.57,56.1),(111.15,53.5),(112,51.6),(111.5,48.2),(113,47.7),(112.6,47.4),(112.5,46.1),(112.65,46.4),(112.35,45.9),(114.15,45.1),(110.6,45.1),(110.87,44.7),(109.9,43.7),(111.45,42.7),(112.6,43.8),(113.8,43.2),(113.95,43.5),(113.45,42),(114.5,40.8),(110.5,41.4),(110.65,41.6),(110.35,41.1),(112.16,40.4),(110.4,40),(113.3,39.5),(113.45,39.7),(113.15,39.2),(110,39.1),(111.2,38.4),(111.35,38.1),(109.7,37.8),(109.85,37.5),(113.2,37.8),(113.35,37.5),(111.35,37.3),(111.9,36.7),(109.8,35.7),(109.95,35.9),(109.65,35.5),(110.6,34.3),(111.6,32.6),
(114.3,34.1),(114.3,32.2),(113.9,30.6),(114.5,30.4),(114,28.3),(116.4,28.6),(116.6,34),(117.1,32.4),(117.1,31.6),(117.2,31.8),(116.85,31.3),
(116.85,44.9),(117.55,44.9),(119.4,45.7),(119.3,44.2),(119.45,44.5),(120.25,43.7),(120.7,42.3),(120.25,41.2),(118.25,41.5),(118.05,41.8),(118.45,41.2),(118.1,41),(118.4,41.9),(118.25,41.2),(117.4,40.8),(118.7,39.5),(118.85,39.7),(117.3,39),(116.4,38),(116.55,38.3),(116.6,36.7),(117.8,37.4),(119,36.5),(118.1,35.7),(119.5,36.1),(119.65,35.9),(119.35,35.8),(121.1,35.1),(121.1,33.8),(121.25,34),(119.8,33.5),(120.7,31.8),(120.85,32),(120.55,31.6),(120.75,31.5),(120.9,31),(120.4,27.4),(120.25,24),
(122.9,33.7),(123.2,33.3),(123.1,32.4),(124.8,32.8),(124.95,33),(124.5,32),(125.8,30.8),(123.1,29.9),(123.8,29.9),(124.1,27.8),(123.5,26.7),(123.65,26.9),(123.35,26.5),(124,26.3),
(124,44.9),(124.9,43.2),(126,43.4),(124.3,42.1),(125.45,40),(124.8,39.1),(124.95,39.4),(124.65,38.9),(123.5,38.4),(123.65,38.1),(126.6,38.4),(123.8,38.8),(127.4,37.4),(126.35,37.5),(125.5,36.4),(125.65,36.7),(125.35,36.2),(125.7,36.1),(127.05,36.5),(126.35,34.6),(126.5,34.3),(126.2,34.9),(127.4,33.4),(127.6,32.3),
(127.9,29.6),(126.8,29.1),(127.5,28.6),(127.65,28.9),(127.35,28.4),(127.55,28.2),
]

series = [cpmg_large, echo_large + echo_core + echo_band, cpmg_simple]
colors = ["#1f77b4", "#ff7f0e", "#2ca02c"]

p = figure(width=2357, height=2350, output_backend="svg", toolbar_location=None,
           x_range=Range1d(-0.01002, 0.13443), y_range=Range1d(-8000, 169850),
           min_border_left=254, min_border_right=21, min_border_top=92, min_border_bottom=147,
           background_fill_color="white", border_fill_color="white")
p.grid.visible = False
p.outline_line_color = "black"
p.outline_line_width = 3.33

p.title.text = TITLE
p.title.align = "center"
p.title.text_font = "Liberation Sans"
p.title.text_font_size = "50px"
p.title.text_font_style = "normal"
p.title.text_color = "black"
p.title.standoff = 25

for ax, ticks in ((p.xaxis, X_TICKS), (p.yaxis, Y_TICKS)):
    ax.ticker = FixedTicker(ticks=ticks)
    ax.major_tick_out = 14
    ax.major_tick_in = 0
    ax.minor_tick_out = 0
    ax.minor_tick_in = 0
    ax.major_tick_line_width = 3.33
    ax.major_tick_line_color = "black"
    ax.axis_line_width = 3.33
    ax.axis_line_color = "black"
    ax.major_label_text_font = "Liberation Sans"
    ax.major_label_text_font_size = "41.67px"
    ax.major_label_text_color = "black"
    ax.axis_label_text_font_size = "41.67px"
    ax.axis_label_text_font_style = "normal"
    ax.axis_label_text_color = "black"
    ax.axis_label_text_font = "Liberation Sans"
p.xaxis.formatter = NumeralTickFormatter(format="0.00")
p.yaxis.formatter = NumeralTickFormatter(format="0")
p.xaxis.major_label_standoff = 14
p.yaxis.major_label_standoff = 15
p.xaxis.axis_label = XLABEL
p.xaxis.axis_label_standoff = 18
p.xaxis.axis_label_text_font = "DejaVu Sans"
p.xaxis.axis_label_text_font_style = "italic"
p.yaxis.axis_label = YLABEL
p.yaxis.axis_label_standoff = 12

items = []
for pts, color, name in zip(series, colors, NAMES):
    src = ColumnDataSource(data=dict(x=[a / 1000 for a, _ in pts], y=[b * 1000 for _, b in pts]))
    r = p.scatter("x", "y", source=src, size=25, marker="circle", fill_color=color, line_color=color,
                  fill_alpha=0.5, line_alpha=0.5, line_width=4.17)
    items.append(LegendItem(label=name, renderers=[r]))

legend = Legend(items=items, location=(1189, 1900), orientation="vertical",
                padding=6, spacing=0, glyph_width=106, glyph_height=60, label_height=60,
                label_standoff=22, label_width=730,
                label_text_font="Liberation Sans", label_text_font_size="41.67px", label_text_color="black",
                border_line_color="#cccccc", border_line_alpha=0.8, border_line_width=3.33,
                background_fill_color="white", background_fill_alpha=0.8)
if "border_radius" in Legend.properties():
    legend.border_radius = 8
p.add_layout(legend, "center")

open("out.html", "w").write(file_html(p, INLINE))
